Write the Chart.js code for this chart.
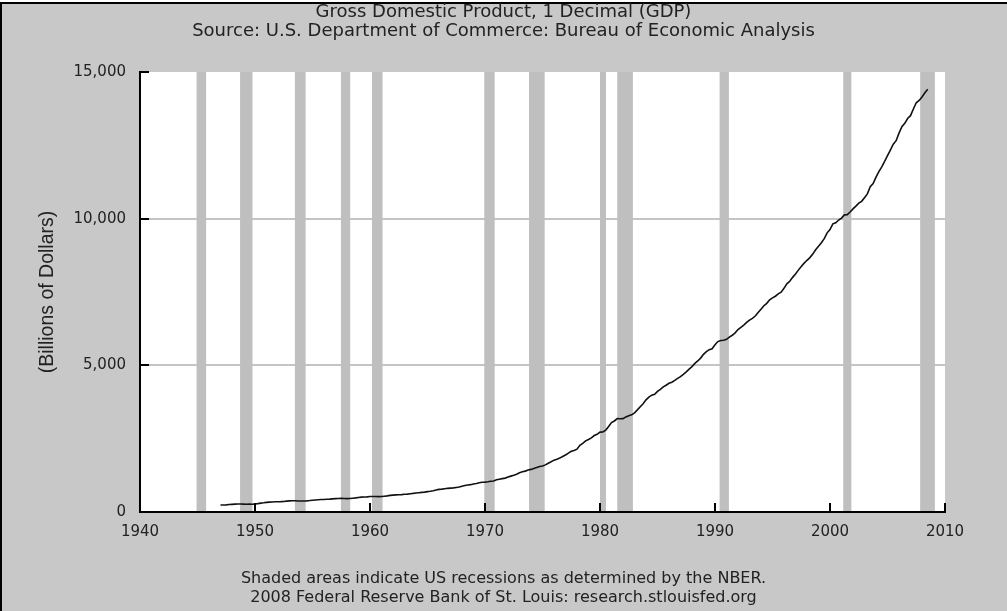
<!DOCTYPE html>
<html>
<head>
<meta charset="utf-8">
<script src="https://cdn.jsdelivr.net/npm/chart.js@4.4.0/dist/chart.umd.min.js"></script>
<style>
  html, body { margin: 0; padding: 0; background: #fff; }
  body { width: 1007px; height: 611px; overflow: hidden; position: relative; }
  #frame {
    position: absolute; left: 0; top: 2px; width: 1007px; height: 609px;
    box-sizing: border-box; background: #c8c8c8;
    border-left: 2px solid #000; border-top: 2px solid #000;
  }
  #wrap { position: absolute; left: 0; top: 0; width: 1007px; height: 611px; }
</style>
</head>
<body>
<div id="frame"></div>
<div id="wrap"><canvas id="gdpChart"></canvas></div>
<script>
/* DATA */

// quarterly GDP, billions of dollars, starting 1947 Q1
const firstYear = 1947;

const gdp = [
  237.2, 240.4, 244.5, 254.3,
  260.3, 267.3, 273.8, 275.1,
  269.9, 266.2, 267.7, 265.2,
  275.2, 284.5, 301.7, 313.5,
  329.0, 336.6, 343.5, 347.6,
  351.6, 352.1, 358.5, 371.0,
  378.0, 382.2, 381.0, 376.4,
  375.9, 375.8, 380.4, 389.6,
  402.6, 410.9, 419.4, 426.2,
  428.3, 434.2, 439.7, 447.7,
  455.9, 459.2, 466.7, 462.4,
  456.2, 459.6, 471.5, 481.5,
  493.7, 507.9, 509.0, 516.0,
  527.2, 526.4, 529.5, 522.6,
  526.9, 537.5, 548.9, 565.4,
  575.2, 584.0, 590.0, 593.2,
  602.5, 610.7, 623.4, 634.3,
  648.7, 658.6, 669.6, 677.5,
  695.7, 708.1, 724.8, 748.0,
  771.0, 780.2, 793.0, 807.0,
  815.5, 822.4, 838.0, 854.5,
  881.0, 905.6, 921.7, 931.7,
  956.8, 974.1, 995.7, 1011.8,
  1018.1, 1031.6, 1049.4, 1054.9,
  1098.6, 1117.6, 1137.2, 1155.0,
  1189.9, 1222.8, 1251.1, 1289.4,
  1337.1, 1370.3, 1393.7, 1429.7,
  1452.6, 1483.8, 1515.5, 1548.1,
  1570.0, 1606.5, 1663.2, 1713.5,
  1768.1, 1801.9, 1838.3, 1892.9,
  1944.2, 2009.5, 2070.4, 2099.5,
  2141.9, 2275.2, 2336.7, 2425.0,
  2471.7, 2526.3, 2607.5, 2647.7,
  2722.7, 2727.1, 2793.1, 2915.1,
  3050.0, 3103.1, 3182.3, 3178.2,
  3183.9, 3241.6, 3283.2, 3311.3,
  3381.9, 3482.5, 3589.8, 3692.6,
  3825.2, 3916.3, 3981.9, 4009.4,
  4110.1, 4184.0, 4265.2, 4321.9,
  4389.5, 4422.2, 4484.8, 4554.7,
  4616.0, 4694.8, 4777.4, 4870.0,
  4955.0, 5065.3, 5148.6, 5246.3,
  5375.3, 5465.9, 5533.0, 5563.4,
  5698.7, 5810.0, 5849.4, 5854.3,
  5887.9, 5963.1, 6023.9, 6108.7,
  6219.3, 6296.5, 6373.5, 6461.5,
  6542.7, 6603.2, 6680.8, 6803.0,
  6910.1, 7031.3, 7112.7, 7234.7,
  7301.3, 7356.4, 7436.9, 7496.2,
  7625.2, 7777.2, 7866.4, 7998.8,
  8114.4, 8246.3, 8372.3, 8484.2,
  8580.8, 8672.7, 8792.9, 8941.6,
  9058.4, 9180.6, 9317.4, 9517.2,
  9629.4, 9822.8, 9862.1, 9953.7,
  10021.5, 10128.9, 10135.1, 10226.3,
  10333.3, 10426.6, 10527.4, 10591.1,
  10717.0, 10844.6, 11087.4, 11194.2,
  11418.4, 11603.0, 11768.4, 11953.8,
  12150.0, 12340.0, 12540.0, 12657.6,
  12915.9, 13134.1, 13249.6, 13414.0,
  13510.9, 13737.5, 13950.6, 14031.0,
  14150.8, 14294.5, 14412.8
];

// NBER recessions, start / end as fractional years
const recessions = [
  [1944.92, 1945.75],
  [1948.70, 1949.78],
  [1953.47, 1954.40],
  [1957.47, 1958.28],
  [1960.17, 1961.09],
  [1969.94, 1970.84],
  [1973.83, 1975.19],
  [1980.00, 1980.52],
  [1981.50, 1982.86],
  [1990.40, 1991.21],
  [2001.15, 2001.86],
  [2007.84, 2009.12]
];

const xTicks = [1940, 1950, 1960, 1970, 1980, 1990, 2000, 2010];
const yTicks = [0, 5000, 10000, 15000];

const points = gdp.map((v, i) => ({ x: firstYear + i / 4, y: v }));


/* PLUGIN: plot background, recession bars, inner tick marks */

const fredDecor = {
  id: "fredDecor",

  beforeDraw(chart) {
    const { ctx, chartArea: a } = chart;
    ctx.save();
    ctx.fillStyle = "#ffffff";
    ctx.fillRect(a.left, a.top, a.right - a.left, a.bottom - a.top);
    ctx.restore();
  },

  beforeDatasetsDraw(chart) {
    const { ctx, chartArea: a, scales: { x } } = chart;
    ctx.save();
    ctx.fillStyle = "#bfbfbf";
    recessions.forEach(([s, e]) => {
      const x0 = x.getPixelForValue(s);
      const x1 = x.getPixelForValue(e);
      ctx.fillRect(x0, a.top, x1 - x0, a.bottom - a.top);
    });
    ctx.restore();
  },

  afterDraw(chart) {
    const { ctx, chartArea: a, scales: { x, y } } = chart;
    ctx.save();
    ctx.strokeStyle = "#000";
    ctx.lineWidth = 2;
    ctx.beginPath();
    yTicks.forEach(v => {
      if (v === 0) return;
      const py = Math.round(y.getPixelForValue(v));
      ctx.moveTo(a.left, py);
      ctx.lineTo(a.left + 9, py);
    });
    xTicks.forEach(v => {
      if (v === xTicks[0]) return;
      const px = Math.round(x.getPixelForValue(v));
      ctx.moveTo(px, a.bottom);
      ctx.lineTo(px, a.bottom - 9);
    });
    ctx.stroke();
    ctx.restore();
  }
};


/* CHART */

const tickFont = { family: "DejaVu Sans", size: 15 };

new Chart(document.getElementById("gdpChart"), {

  type: "line",

  data: {
    datasets: [
      {
        label: "GDP",
        data: points,
        borderColor: "#111",
        borderWidth: 1.6,
        pointRadius: 0,
        tension: 0
      }
    ]
  },

  plugins: [fredDecor],

  options: {
    responsive: true,
    maintainAspectRatio: false,
    animation: false,
    layout: { padding: 0 },

    plugins: {
      legend: { display: false },
      tooltip: { enabled: false },
      title: {
        display: true,
        text: [
          "Gross Domestic Product, 1 Decimal (GDP)",
          "Source: U.S. Department of Commerce: Bureau of Economic Analysis"
        ],
        color: "#222",
        font: { family: "DejaVu Sans", size: 18, weight: "normal", lineHeight: "19px" },
        padding: { top: 3, bottom: 31 }
      },
      subtitle: {
        display: true,
        position: "bottom",
        text: [
          "Shaded areas indicate US recessions as determined by the NBER.",
          "2008 Federal Reserve Bank of St. Louis: research.stlouisfed.org"
        ],
        color: "#222",
        font: { family: "DejaVu Sans", size: 16, lineHeight: "19px" },
        padding: { top: 0, bottom: 3.5 }
      }
    },

    scales: {
      x: {
        type: "linear",
        min: 1940,
        max: 2010,
        afterFit: s => { s.height = 57.5; },
        afterBuildTicks: s => { s.ticks = xTicks.map(v => ({ value: v })); },
        ticks: {
          color: "#222",
          font: tickFont,
          padding: 11,
          maxRotation: 0,
          callback: v => String(v)
        },
        grid: { display: false, drawTicks: false },
        border: { display: true, color: "#000", width: 2, z: 1 }
      },

      y: {
        min: 0,
        max: 15000,
        afterFit: s => { s.width = 140; },
        afterBuildTicks: s => { s.ticks = yTicks.map(v => ({ value: v })); },
        ticks: {
          color: "#222",
          font: tickFont,
          padding: 14,
          callback: v => v.toLocaleString("en-US")
        },
        grid: {
          drawTicks: false,
          lineWidth: 2,
          color: c => (c.tick && (c.tick.value === 5000 || c.tick.value === 10000))
            ? "#c4c4c4" : "rgba(0,0,0,0)"
        },
        border: { display: true, color: "#000", width: 2, z: 1 },
        title: {
          display: true,
          text: "(Billions of Dollars)",
          color: "#222",
          font: { family: "Liberation Sans", size: 19.5 },
          padding: { top: 36, bottom: 0 }
        }
      },

      // empty right-hand margin so the titles centre on the whole page
      margin: {
        type: "linear",
        position: "right",
        afterFit: s => { s.width = 62; },
        ticks: { display: false },
        grid: { display: false, drawTicks: false },
        border: { display: false }
      }
    }
  }
});
</script>
</body>
</html>
